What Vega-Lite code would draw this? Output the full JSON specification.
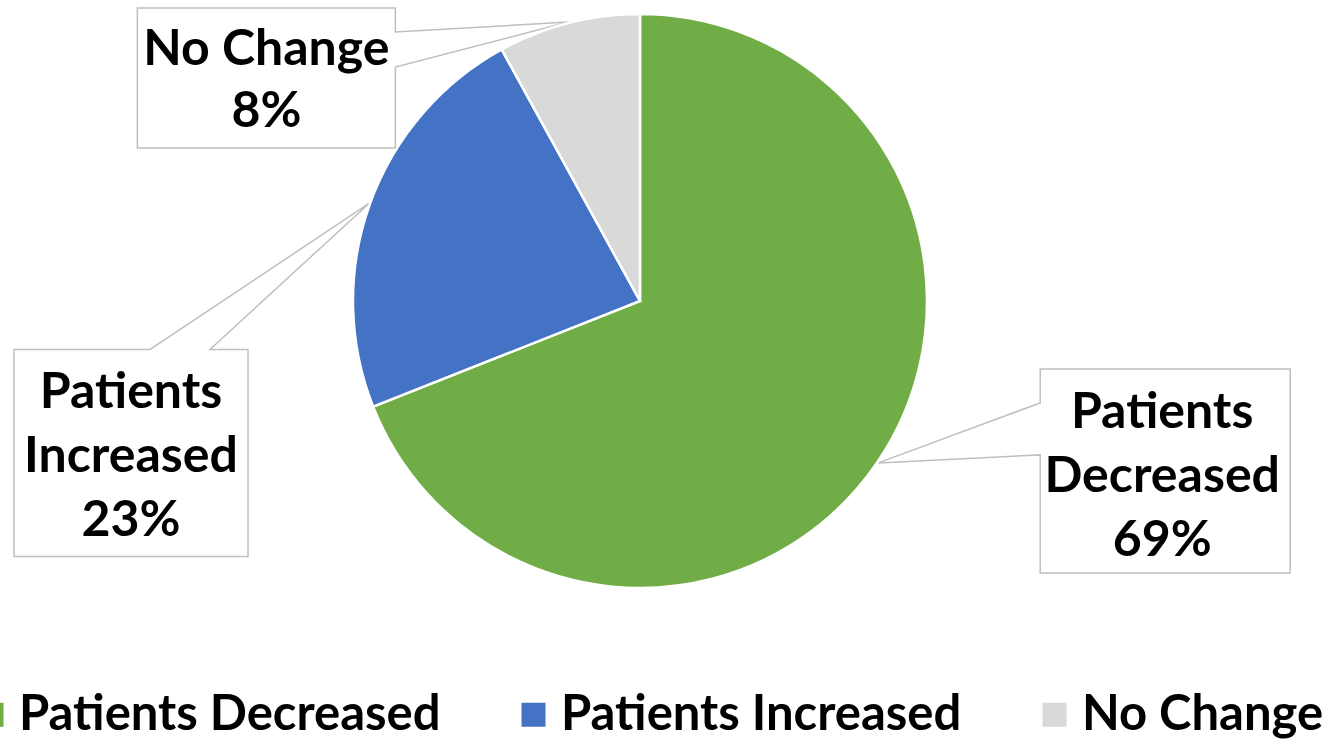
{
  "$schema": "https://vega.github.io/schema/vega-lite/v6.json",
  "width": 1328,
  "height": 739,
  "padding": 0,
  "autosize": {"type": "none"},
  "background": "white",
  "config": {"view": {"stroke": null}},
  "data": {"values": [
    {"category": "Patients Decreased", "value": 69},
    {"category": "Patients Increased", "value": 23},
    {"category": "No Change", "value": 8}
  ]},
  "transform": [
    {"joinaggregate": [{"op": "sum", "field": "value", "as": "total"}]},
    {"window": [{"op": "sum", "field": "value", "as": "cum"}], "sort": [{"field": "value", "order": "descending"}], "frame": [null, 0]},
    {"calculate": "2*PI*(datum.cum - datum.value/2)/datum.total", "as": "mid"},
    {"calculate": "sin(datum.mid)", "as": "ax"},
    {"calculate": "cos(datum.mid)", "as": "ay"}
  ],
  "resolve": {"legend": {"shape": "independent", "color": "independent"}},
  "layer": [
    {
      "transform": [{"calculate": "datum.category", "as": "callout"}],
      "mark": {"type": "point", "filled": true, "fill": "white", "stroke": "#BFBFBF", "strokeWidth": 1.5, "size": 4, "opacity": 1, "fillOpacity": 1, "strokeOpacity": 1},
      "encoding": {
        "x": {"field": "ax", "type": "quantitative", "scale": {"domain": [-2.2222, 2.3889], "nice": false, "zero": false}, "axis": null},
        "y": {"field": "ay", "type": "quantitative", "scale": {"domain": [-1.5208, 1.0451], "nice": false, "zero": false}, "axis": null},
        "shape": {"field": "callout", "type": "nominal", "legend": null, "scale": {
          "domain": ["Patients Decreased", "Patients Increased", "No Change"],
          "range": ["M162,-94H412V110H162V-8L0,0L162,-60Z", "M-355,146H-219L0,0L-159,146H-121V353H-355Z", "M-431,-14H-173V10L0,0L-173,45V126H-431Z"]
        }}
      }
    },
    {
      "mark": {"type": "arc", "outerRadius": 287, "stroke": "white", "strokeWidth": 2.5},
      "encoding": {
        "theta": {"field": "value", "type": "quantitative", "stack": true},
        "order": {"field": "value", "sort": "descending"},
        "x": {"datum": 0, "type": "quantitative", "scale": {"domain": [-2.2222, 2.3889], "nice": false, "zero": false}, "axis": null},
        "y": {"datum": 0, "type": "quantitative", "scale": {"domain": [-1.5208, 1.0451], "nice": false, "zero": false}, "axis": null},
        "color": {"field": "category", "type": "nominal",
          "scale": {"domain": ["Patients Decreased", "Patients Increased", "No Change"], "range": ["#70AD47", "#4472C4", "#D9D9D9"]},
          "legend": {"title": null, "orient": "none", "legendX": -33, "legendY": 690, "direction": "horizontal", "symbolType": "square", "symbolSize": 576, "symbolStrokeWidth": 0, "labelFont": "Lato", "labelFontSize": 49, "labelFontWeight": "bold", "labelColor": "black", "labelOffset": 3, "columnPadding": 68, "padding": 0, "labelLimit": 0}
        }
      }
    },
    {
      "transform": [{"filter": "datum.category === 'No Change'"}, {"calculate": "datum.category + '|' + datum.value + '%'", "as": "label"}],
      "mark": {"type": "text", "font": "Lato", "fontWeight": "bold", "fontSize": 50, "lineHeight": 62, "lineBreak": "|", "align": "center", "baseline": "middle", "color": "black", "dx": -302, "dy": 28},
      "encoding": {
        "x": {"field": "ax", "type": "quantitative", "scale": {"domain": [-2.2222, 2.3889], "nice": false, "zero": false}, "axis": null},
        "y": {"field": "ay", "type": "quantitative", "scale": {"domain": [-1.5208, 1.0451], "nice": false, "zero": false}, "axis": null},
        "text": {"field": "label", "type": "nominal"}
      }
    },
    {
      "transform": [{"filter": "datum.category === 'Patients Increased'"}, {"calculate": "replace(datum.category, ' ', '|') + '|' + datum.value + '%'", "as": "label"}],
      "mark": {"type": "text", "font": "Lato", "fontWeight": "bold", "fontSize": 50, "lineHeight": 64, "lineBreak": "|", "align": "center", "baseline": "middle", "color": "black", "dx": -238, "dy": 190},
      "encoding": {
        "x": {"field": "ax", "type": "quantitative", "scale": {"domain": [-2.2222, 2.3889], "nice": false, "zero": false}, "axis": null},
        "y": {"field": "ay", "type": "quantitative", "scale": {"domain": [-1.5208, 1.0451], "nice": false, "zero": false}, "axis": null},
        "text": {"field": "label", "type": "nominal"}
      }
    },
    {
      "transform": [{"filter": "datum.category === 'Patients Decreased'"}, {"calculate": "replace(datum.category, ' ', '|') + '|' + datum.value + '%'", "as": "label"}],
      "mark": {"type": "text", "font": "Lato", "fontWeight": "bold", "fontSize": 50, "lineHeight": 64, "lineBreak": "|", "align": "center", "baseline": "middle", "color": "black", "dx": 284, "dy": -50},
      "encoding": {
        "x": {"field": "ax", "type": "quantitative", "scale": {"domain": [-2.2222, 2.3889], "nice": false, "zero": false}, "axis": null},
        "y": {"field": "ay", "type": "quantitative", "scale": {"domain": [-1.5208, 1.0451], "nice": false, "zero": false}, "axis": null},
        "text": {"field": "label", "type": "nominal"}
      }
    }
  ]
}
